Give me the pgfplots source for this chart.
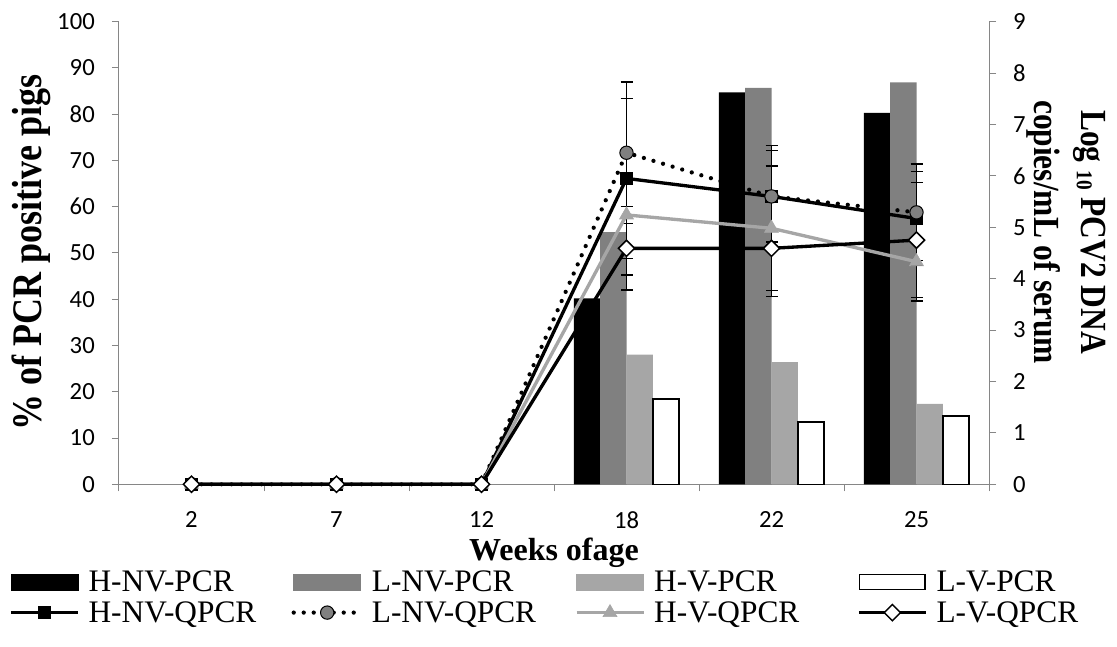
\documentclass[border=0pt]{standalone}
\usepackage{fontspec}
\usepackage{graphicx}
\setmainfont{Liberation Serif}
\newfontfamily\calfont{Carlito}
\usepackage{pgfplots}
\pgfplotsset{compat=1.18}
\definecolor{midgray}{RGB}{128,128,128}
\definecolor{ltgray}{RGB}{166,166,166}
\definecolor{axisgray}{RGB}{134,134,134}
\newcommand{\legtxt}[1]{\makebox[145.5pt][l]{\rule[-5pt]{0pt}{21pt}#1}}
\begin{document}
\begin{tikzpicture}
\useasboundingbox (-89.25pt,-121.3pt) rectangle (748.5pt,363.2pt);
\pgfplotsset{
  base/.style={scale only axis, width=652.5pt, height=346.95pt,
    xmin=-0.5, xmax=5.5, ymin=0,
    tick align=outside, major tick length=5.25pt, minor tick length=5.25pt,
    tick style={axisgray, line width=0.75pt},
    axis line style={axisgray, line width=0.75pt},
    /pgf/number format/assume math mode=true,
    ticklabel style={font=\calfont\fontsize{18.5}{18.5}\selectfont, text=black},
  }
}
\begin{axis}[base, ymax=100, axis y line*=left, axis x line*=bottom,
  ytick={0,10,...,100},
  yticklabel style={xshift=-9.4pt},
  xtick={0,...,5}, xticklabels={2,7,12,18,22,25},
  xticklabel style={yshift=-11.5pt},
  major x tick style={draw=none},
  minor xtick={-0.5,0.5,1.5,2.5,3.5,4.5,5.5},
  ybar=0pt, bar width=19.7pt,
]
\addplot[fill=black, draw=none] coordinates {(3,40.2) (4,84.7) (5,80.3)};
\addplot[fill=midgray, draw=none] coordinates {(3,54.5) (4,85.7) (5,86.9)};
\addplot[fill=ltgray, draw=none] coordinates {(3,28.0) (4,26.4) (5,17.4)};
\addplot[fill=white, draw=black, line width=1.1pt] coordinates {(3,18.4) (4,13.5) (5,14.8)};
\end{axis}
\begin{axis}[base, ymax=9, axis y line*=right, axis x line=none,
  ytick={0,...,9}, clip=false,
  yticklabel style={xshift=9.4pt},
  legend columns=4, legend cell align=left,
  legend style={at={(-0.12644,-0.18533)}, anchor=north west, draw=none, fill=none,
    inner sep=0pt, column sep=6.75pt, row sep=5.5pt,
    font=\fontsize{23.5}{23.5}\selectfont, nodes={inner sep=0pt}},
  legend image code/.code={\draw[mark repeat=2,mark phase=2,#1] plot coordinates {(0pt,0pt) (25.1pt,0pt) (50.25pt,0pt)};},
  errb/.style={draw=none, mark=none, forget plot,
    error bars/.cd, y dir=both, y explicit,
    error bar style={draw=black, solid, line width=1.1pt},
    error mark options={rotate=90, draw=black, solid, line width=1.1pt, mark size=4.5pt}},
]
\addlegendimage{legend image code/.code={\fill[black] (0pt,-6pt) rectangle (50.25pt,6pt);}}
\addlegendentry{\legtxt{H-NV-PCR}}
\addlegendimage{legend image code/.code={\fill[midgray] (0pt,-6pt) rectangle (50.25pt,6pt);}}
\addlegendentry{\legtxt{L-NV-PCR}}
\addlegendimage{legend image code/.code={\fill[ltgray] (0pt,-6pt) rectangle (50.25pt,6pt);}}
\addlegendentry{\legtxt{H-V-PCR}}
\addlegendimage{legend image code/.code={\draw[black, line width=1.1pt, fill=white] (0.5pt,-5.5pt) rectangle (49.75pt,5.5pt);}}
\addlegendentry{\legtxt{L-V-PCR}}
% error bars
\addplot[errb] coordinates {(3,5.95) +- (0,1.56) (4,5.60) +- (0,0.99) (5,5.17) +- (0,0.91)};
\addplot[errb] coordinates {(3,6.45) +- (0,1.38) (4,5.60) +- (0,0.89) (5,5.29) +- (0,0.94)};
\addplot[errb] coordinates {(3,5.24) +- (0,1.17) (4,4.98) +- (0,1.21) (5,4.33) +- (0,0.76)};
\addplot[errb] coordinates {(3,4.59) +- (0,0.81) (4,4.59) +- (0,0.94) (5,4.75) +- (0,1.12)};
% lines
\addplot[black, line width=2.5pt, mark=square*, mark size=4.5pt,
  mark options={solid, fill=black, draw=black, line width=0.75pt}]
  coordinates {(0,0) (1,0) (2,0) (3,5.95) (4,5.60) (5,5.17)};
\addlegendentry{\legtxt{H-NV-QPCR}}
\addplot[black, line width=3.2pt, line cap=round, dash pattern=on 0pt off 7.5pt,
  mark=*, mark size=5pt,
  mark options={solid, fill=midgray, draw=black, line width=0.75pt}]
  coordinates {(0,0) (1,0) (2,0) (3,6.45) (4,5.60) (5,5.29)};
\addlegendentry{\legtxt{L-NV-QPCR}}
\addplot[ltgray, line width=2.5pt, mark=triangle*, mark size=6pt,
  mark options={solid, fill=ltgray, draw=ltgray, line width=0.5pt}]
  coordinates {(0,0) (1,0) (2,0) (3,5.24) (4,4.98) (5,4.33)};
\addlegendentry{\legtxt{H-V-QPCR}}
\addplot[black, line width=2.5pt, mark=square*, mark size=4.3pt,
  mark options={solid, rotate=45, fill=white, draw=black, line width=1.1pt}]
  coordinates {(0,0) (1,0) (2,0) (3,4.59) (4,4.59) (5,4.75)};
\addlegendentry{\legtxt{L-V-QPCR}}
\end{axis}
\node[rotate=90, font=\bfseries\fontsize{27}{27}\selectfont] at (-66pt,174.2pt)
  {\scalebox{1}[1.17]{\% of PCR positive pigs}};
\node[anchor=base, font=\bfseries\fontsize{24}{24}\selectfont] at (326.25pt,-57.5pt) {Weeks ofage};
\node[rotate=-90, font=\bfseries\fontsize{23.6}{30}\selectfont] at (711pt,189.2pt)
  {\scalebox{1}[1.17]{\begin{tabular}{@{}c@{}}Log \raisebox{-0.25ex}{\fontsize{14.5}{14.5}\selectfont 10} PCV2 DNA\\copies/mL of serum\end{tabular}}};
\end{tikzpicture}
\end{document}
